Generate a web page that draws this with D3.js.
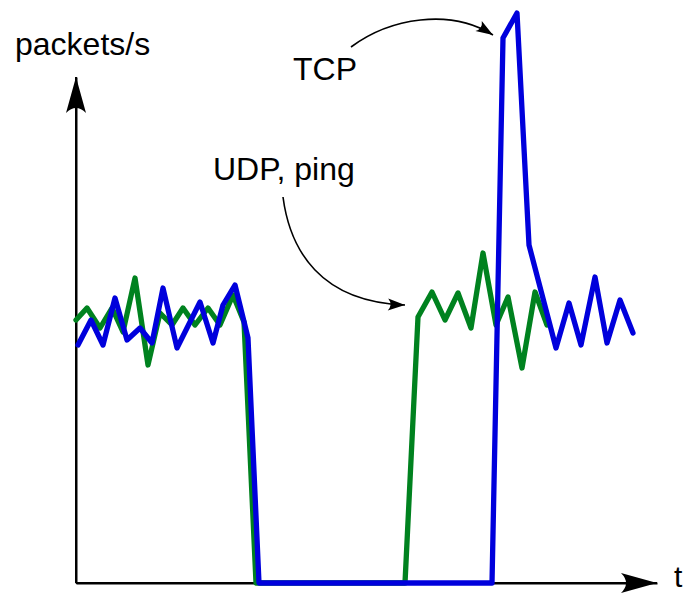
<!DOCTYPE html>
<html>
<head>
<meta charset="utf-8">
<script src="https://cdn.jsdelivr.net/npm/d3@7"></script>
<style>
  html, body { margin: 0; padding: 0; background: #fff; }
  svg { display: block; }
  text { font-family: "Liberation Sans", Arial, Helvetica, sans-serif; fill: #000; }
</style>
</head>
<body>
<svg id="chart" width="688" height="594"></svg>
<script>
// ---- data (time units, packets/s units) ----
const tcpTime = [0.2, 1.5, 2.7, 3.9, 5.1, 6.4, 7.6, 8.7, 10.1, 12.4, 13.7, 14.7, 15.9, 17.2, 18.3, 41.6, 42.7, 44.1, 45.3, 48.0, 49.3, 50.5, 51.9, 53.1, 54.4, 55.7];
const tcpRate = [23.8, 26.3, 23.8, 28.5, 24.3, 25.5, 24.0, 29.5, 23.5, 28.1, 24.0, 27.8, 29.8, 24.5, 0, 0, 54.5, 57.0, 33.8, 23.5, 28.0, 23.8, 30.6, 24.0, 28.3, 25.0];

const udpTime = [0.0, 1.1, 2.4, 3.6, 4.7, 5.9, 7.2, 8.4, 9.6, 10.7, 11.9, 13.2, 14.4, 15.7, 16.8, 18.0, 32.9, 34.2, 35.6, 36.9, 38.2, 39.5, 40.7, 42.0, 43.2, 44.6, 45.9, 47.1];
const udpRate = [26.3, 27.5, 25.5, 27.5, 25.1, 30.5, 21.8, 27.0, 25.8, 27.5, 25.8, 27.5, 25.8, 28.8, 26.1, 0, 0, 26.6, 29.1, 26.3, 29.0, 25.5, 33.0, 25.8, 28.6, 21.5, 29.1, 25.8];

const axisLabels = ["packets/s", "t"];
const seriesLabels = ["TCP", "UDP, ping"];
const tickValues = [];

// ---- layout ----
const svg = d3.select("#chart");
const x = d3.scaleLinear().domain([0, 58.1]).range([76, 657]);
const y = d3.scaleLinear().domain([0, 50.6]).range([583, 77]);

const green = "#00821f";
const blue = "#0000dc";

// arrow markers
const defs = svg.append("defs");
defs.append("marker")
  .attr("id", "bigArrow").attr("markerUnits", "userSpaceOnUse")
  .attr("viewBox", "-36 -11 38 22").attr("refX", 0).attr("refY", 0)
  .attr("markerWidth", 38).attr("markerHeight", 22).attr("orient", "auto")
  .append("path").attr("d", "M0,0 L-36,-10 Q-26,0 -36,10 Z").attr("fill", "#000");
defs.append("marker")
  .attr("id", "smallArrow").attr("markerUnits", "userSpaceOnUse")
  .attr("viewBox", "-18 -7 20 14").attr("refX", 0).attr("refY", 0)
  .attr("markerWidth", 20).attr("markerHeight", 14).attr("orient", "auto")
  .append("path").attr("d", "M0,0 L-17,-6 Q-12,0 -17,6 Z").attr("fill", "#000");

// axes via d3 axis (no ticks)
const yAxisG = svg.append("g").attr("transform", `translate(${x(0)},0)`)
  .call(d3.axisLeft(y).tickValues(tickValues).tickSizeOuter(0));
yAxisG.select(".domain").attr("stroke", "#000").attr("stroke-width", 2);
const xAxisG = svg.append("g").attr("transform", `translate(0,${y(0)})`)
  .call(d3.axisBottom(x).tickValues(tickValues).tickSizeOuter(0));
xAxisG.select(".domain").attr("stroke", "#000").attr("stroke-width", 2);

// arrowheads along the axes
svg.append("line")
  .attr("x1", x(0)).attr("y1", y(0)).attr("x2", x(0)).attr("y2", y(50.6))
  .attr("stroke", "#000").attr("stroke-width", 2).attr("marker-end", "url(#bigArrow)");
svg.append("line")
  .attr("x1", x(0)).attr("y1", y(0)).attr("x2", x(58.1)).attr("y2", y(0))
  .attr("stroke", "#000").attr("stroke-width", 2).attr("marker-end", "url(#bigArrow)");

// series lines
const line = d3.line().x(d => x(d[0])).y(d => y(d[1]));
svg.append("path")
  .datum(udpTime.map((t, i) => [t, udpRate[i]]))
  .attr("d", line).attr("fill", "none").attr("stroke", green)
  .attr("stroke-width", 5.3).attr("stroke-linejoin", "round").attr("stroke-linecap", "round");
svg.append("path")
  .datum(tcpTime.map((t, i) => [t, tcpRate[i]]))
  .attr("d", line).attr("fill", "none").attr("stroke", blue)
  .attr("stroke-width", 5.3).attr("stroke-linejoin", "round").attr("stroke-linecap", "round");

// labels
svg.append("text").attr("x", 15).attr("y", 55).attr("font-size", 32).text(axisLabels[0]);
svg.append("text").attr("x", 674).attr("y", 587).attr("font-size", 30).text(axisLabels[1]);
svg.append("text").attr("x", 293).attr("y", 80).attr("font-size", 32).text(seriesLabels[0]);
svg.append("text").attr("x", 213).attr("y", 180).attr("font-size", 32).text(seriesLabels[1]);

// annotation arrows
svg.append("path")
  .attr("d", "M351,47 C390,18 450,8 493,35")
  .attr("fill", "none").attr("stroke", "#000").attr("stroke-width", 1.6)
  .attr("marker-end", "url(#smallArrow)");
svg.append("path")
  .attr("d", "M283,197 C290,250 320,302 405,305")
  .attr("fill", "none").attr("stroke", "#000").attr("stroke-width", 1.6)
  .attr("marker-end", "url(#smallArrow)");
</script>
</body>
</html>
